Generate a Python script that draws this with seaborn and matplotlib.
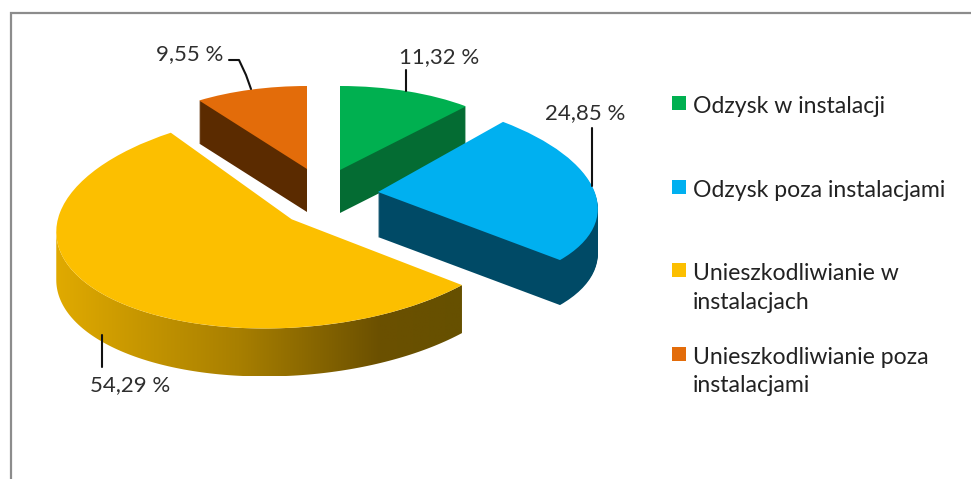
import numpy as np
import matplotlib
matplotlib.use("Agg")
import matplotlib.pyplot as plt
import seaborn as sns
from matplotlib.patches import Wedge, Patch, Rectangle, Polygon
from matplotlib.transforms import Affine2D
from matplotlib.colors import LinearSegmentedColormap
from matplotlib.legend_handler import HandlerPatch

# ---- data ----
categories = ["Odzysk w instalacji", "Odzysk poza instalacjami",
              "Unieszkodliwianie w\ninstalacjach", "Unieszkodliwianie poza\ninstalacjami"]
shares = [11.32, 24.85, 54.29, 9.55]

# ---- style ----
top_colors = ["#00B050", "#00B0F0", "#FCBF00", "#E36C0A"]
side_colors = ["#046C33", "#004A66", None, "#5B2B00"]
palette = sns.color_palette(top_colors)
# per-slice projection of the unit pie to pixels: (a, b, c, d, cx, cy, depth)
proj = [(193, 0, 0, 84, 340, 170, 43),
        (218.6, -23.3, -6.3, 98, 378, 192, 45),
        (235, 14.3, 6, 109, 291.7, 219.3, 48),
        (191, 0, 0, 83, 307, 169, 43)]
zorders = [2, 4, 5, 3]
label_xy = [(439, 57), (585, 113), (130, 385), (190, 54)]
leaders = [[(406, 70), (406, 91)], [(592, 128), (592, 186)],
           [(102, 335), (102, 367)], [(229, 60), (239, 60), (246, 75), (251, 89)]]

sns.set_theme(style="white")
plt.rcParams["font.family"] = ["Lato", "DejaVu Sans"]

fig = plt.figure(figsize=(9.71, 4.79), dpi=100, facecolor="white")
ax = fig.add_axes([0, 0, 1, 1])
wedges, _ = ax.pie(shares, colors=palette, startangle=90, counterclock=False,
                   wedgeprops=dict(linewidth=0))
ax.set_aspect("auto")


def slice_tf(p, dy=0):
    a, b, c, d, cx, cy, _ = p
    return Affine2D(np.array([[a, b, cx], [-c, -d, cy + dy], [0, 0, 1.0]]))


grad = LinearSegmentedColormap.from_list(
    "side", [(0, "#E0AA00"), (0.45, "#A87F00"), (0.8, "#6B5000"), (1, "#665000")])

for w, p, z, side in zip(wedges, proj, zorders, side_colors):
    depth = p[6]
    w.set_transform(slice_tf(p) + ax.transData)
    w.set_zorder(z + 0.5)
    if side is not None:
        for dy in range(1, depth + 1):
            s = Wedge((0, 0), 1, w.theta1, w.theta2, facecolor=side, linewidth=0, zorder=z)
            ax.add_patch(s)
            s.set_transform(slice_tf(p, dy) + ax.transData)
    else:
        th_left = np.degrees(np.arctan2(p[1], p[0])) - 180
        th = np.radians(np.linspace(w.theta2, th_left, 120))
        pts = slice_tf(p).transform(np.c_[np.cos(th), np.sin(th)])
        low = pts + [0, depth]
        outline = np.vstack([pts, low[::-1]])
        im = ax.imshow(np.linspace(0, 1, 256)[None, :], cmap=grad, aspect="auto", zorder=z,
                       extent=(pts[:, 0].min(), 462, low[:, 1].max(), pts[:, 1].min()))
        clip = Polygon(outline, transform=ax.transData)
        im.set_clip_path(clip)

ax.set_xlim(0, 971)
ax.set_ylim(479, 0)
ax.set_axis_off()

# chart frame
ax.plot([10.5, 10.5, 971], [479, 12.5, 12.5], color="#8C8C8C", lw=1.6, zorder=1,
        solid_joinstyle="miter")

# data labels with leader lines
for v, xy, line in zip(shares, label_xy, leaders):
    ax.text(*xy, f"{v:.2f} %".replace(".", ","), ha="center", va="center",
            fontsize=16, color="#2E2E2E", zorder=8)
    lx, ly = zip(*line)
    ax.plot(lx, ly, color="#111111", lw=1.5, zorder=7)

# legend: every row is two lines tall, so first lines are evenly spaced
LINE_PT = 13.7


def square(legend, orig_handle, xdescent, ydescent, width, height, fontsize):
    return Rectangle((-xdescent, -ydescent + LINE_PT), 10, 10)


rows = [c if "\n" in c else c + "\n " for c in categories]
handles = [Patch(facecolor=c, linewidth=0) for c in palette]
leg = ax.legend(handles, rows, loc="upper left", bbox_to_anchor=(672 / 971, 1 - 96 / 479),
                bbox_transform=fig.transFigure, frameon=False, fontsize=16.6,
                labelcolor="#222222", handlelength=0.6, handletextpad=0.3,
                labelspacing=1.47, borderpad=0, borderaxespad=0,
                handler_map={Patch: HandlerPatch(patch_func=square)})
for t in leg.get_texts():
    t.set_linespacing(1.45)
leg.set_zorder(9)

fig.savefig("out.png", dpi=100, facecolor="white")
